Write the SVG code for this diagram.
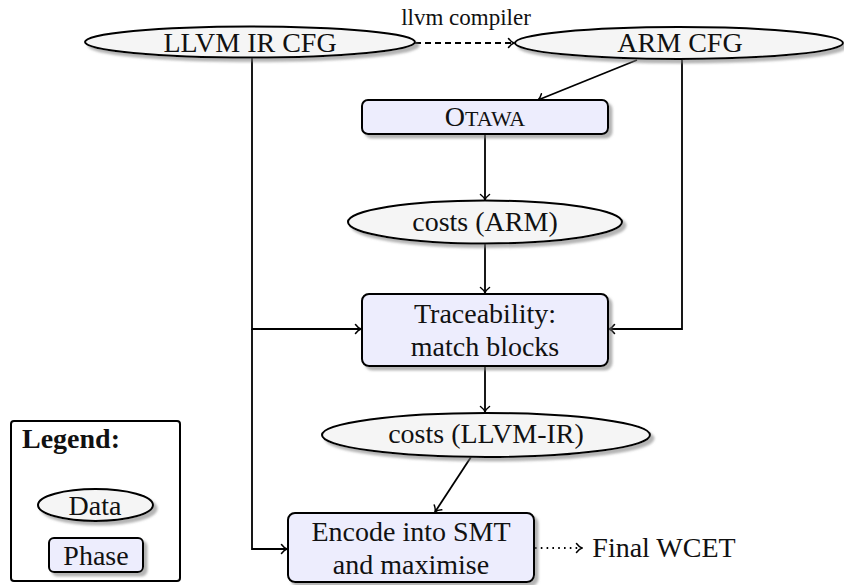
<svg xmlns="http://www.w3.org/2000/svg" width="844" height="585" viewBox="0 0 844 585">
<style>
text{font-family:'Liberation Serif','DejaVu Serif','Times New Roman',serif;font-size:28px;fill:#111;text-anchor:middle}
.data{fill:#f5f5f5;stroke:#000;stroke-width:2;filter:url(#sh)}
.phase{fill:#ededfd;stroke:#000;stroke-width:2;filter:url(#sh)}
.c{fill:none;stroke:#000;stroke-width:1.8}
</style>
<defs>
<filter id="sh" x="-10%" y="-20%" width="130%" height="160%">
<feDropShadow dx="3.5" dy="3.5" stdDeviation="1.2" flood-color="#777" flood-opacity="0.55"/>
</filter>
<marker id="ar" viewBox="-7 -6 8 12" refX="0" refY="0" markerWidth="8" markerHeight="12" markerUnits="userSpaceOnUse" orient="auto">
<path d="M -5.5 -4.5 C -3.5 -1.8 -1.5 -0.5 0 0 C -1.5 0.5 -3.5 1.8 -5.5 4.5" fill="none" stroke="#000" stroke-width="1.5" stroke-linecap="round"/>
</marker>
</defs>
<g id="connectors">
<line class="c" x1="415" y1="43" x2="514" y2="43" stroke-dasharray="6,4" marker-end="url(#ar)"/>
<text x="466" y="25" style="font-size:23px">llvm compiler</text>
<line class="c" x1="637" y1="60" x2="538" y2="100" marker-end="url(#ar)"/>
<line class="c" x1="485" y1="134" x2="485" y2="200" marker-end="url(#ar)"/>
<line class="c" x1="485" y1="244" x2="485" y2="293" marker-end="url(#ar)"/>
<polyline class="c" points="252,58 252,329 361,329" marker-end="url(#ar)"/>
<polyline class="c" points="682,59 682,329 609,329" marker-end="url(#ar)"/>
<line class="c" x1="485" y1="366" x2="485" y2="412" marker-end="url(#ar)"/>
<polyline class="c" points="252,329 252,549 287,549" marker-end="url(#ar)"/>
<line class="c" x1="471" y1="457" x2="435" y2="512" marker-end="url(#ar)"/>
<line class="c" x1="535" y1="548" x2="582" y2="548" stroke-dasharray="1.6,4.2" marker-end="url(#ar)"/>
</g>
<g id="llvm-ir-cfg">
<ellipse class="data" cx="250" cy="42" rx="165" ry="15.5"/>
<text x="250" y="52">LLVM IR CFG</text>
</g>
<g id="arm-cfg">
<ellipse class="data" cx="679" cy="43" rx="164" ry="16"/>
<text x="680" y="52">ARM CFG</text>
</g>
<g id="otawa">
<rect class="phase" x="362" y="100" width="246" height="34" rx="6"/>
<text x="485" y="126">O<tspan style="font-size:22px">TAWA</tspan></text>
</g>
<g id="costs-arm">
<ellipse class="data" cx="485" cy="222" rx="137" ry="21.5"/>
<text x="485" y="231">costs (ARM)</text>
</g>
<g id="traceability">
<rect class="phase" x="362" y="294" width="246" height="72" rx="7"/>
<text x="485" y="323">Traceability:</text>
<text x="485" y="356">match blocks</text>
</g>
<g id="costs-llvm-ir">
<ellipse class="data" cx="486" cy="435" rx="164" ry="22"/>
<text x="486" y="443">costs (LLVM-IR)</text>
</g>
<g id="encode">
<rect class="phase" x="288" y="513" width="246" height="69" rx="7"/>
<text x="411" y="541">Encode into SMT</text>
<text x="411" y="574">and maximise</text>
</g>
<g id="final-wcet">
<text x="664" y="557">Final WCET</text>
</g>
<g id="legend">
<rect x="11" y="421" width="169" height="160" rx="3" fill="#fff" stroke="#000" stroke-width="2"/>
<text x="22" y="448" style="text-anchor:start;font-weight:bold">Legend:</text>
<ellipse class="data" cx="95.5" cy="505" rx="57.5" ry="16"/>
<text x="95" y="515">Data</text>
<rect class="phase" x="49" y="538" width="94" height="34" rx="5"/>
<text x="96" y="565">Phase</text>
</g>
</svg>
